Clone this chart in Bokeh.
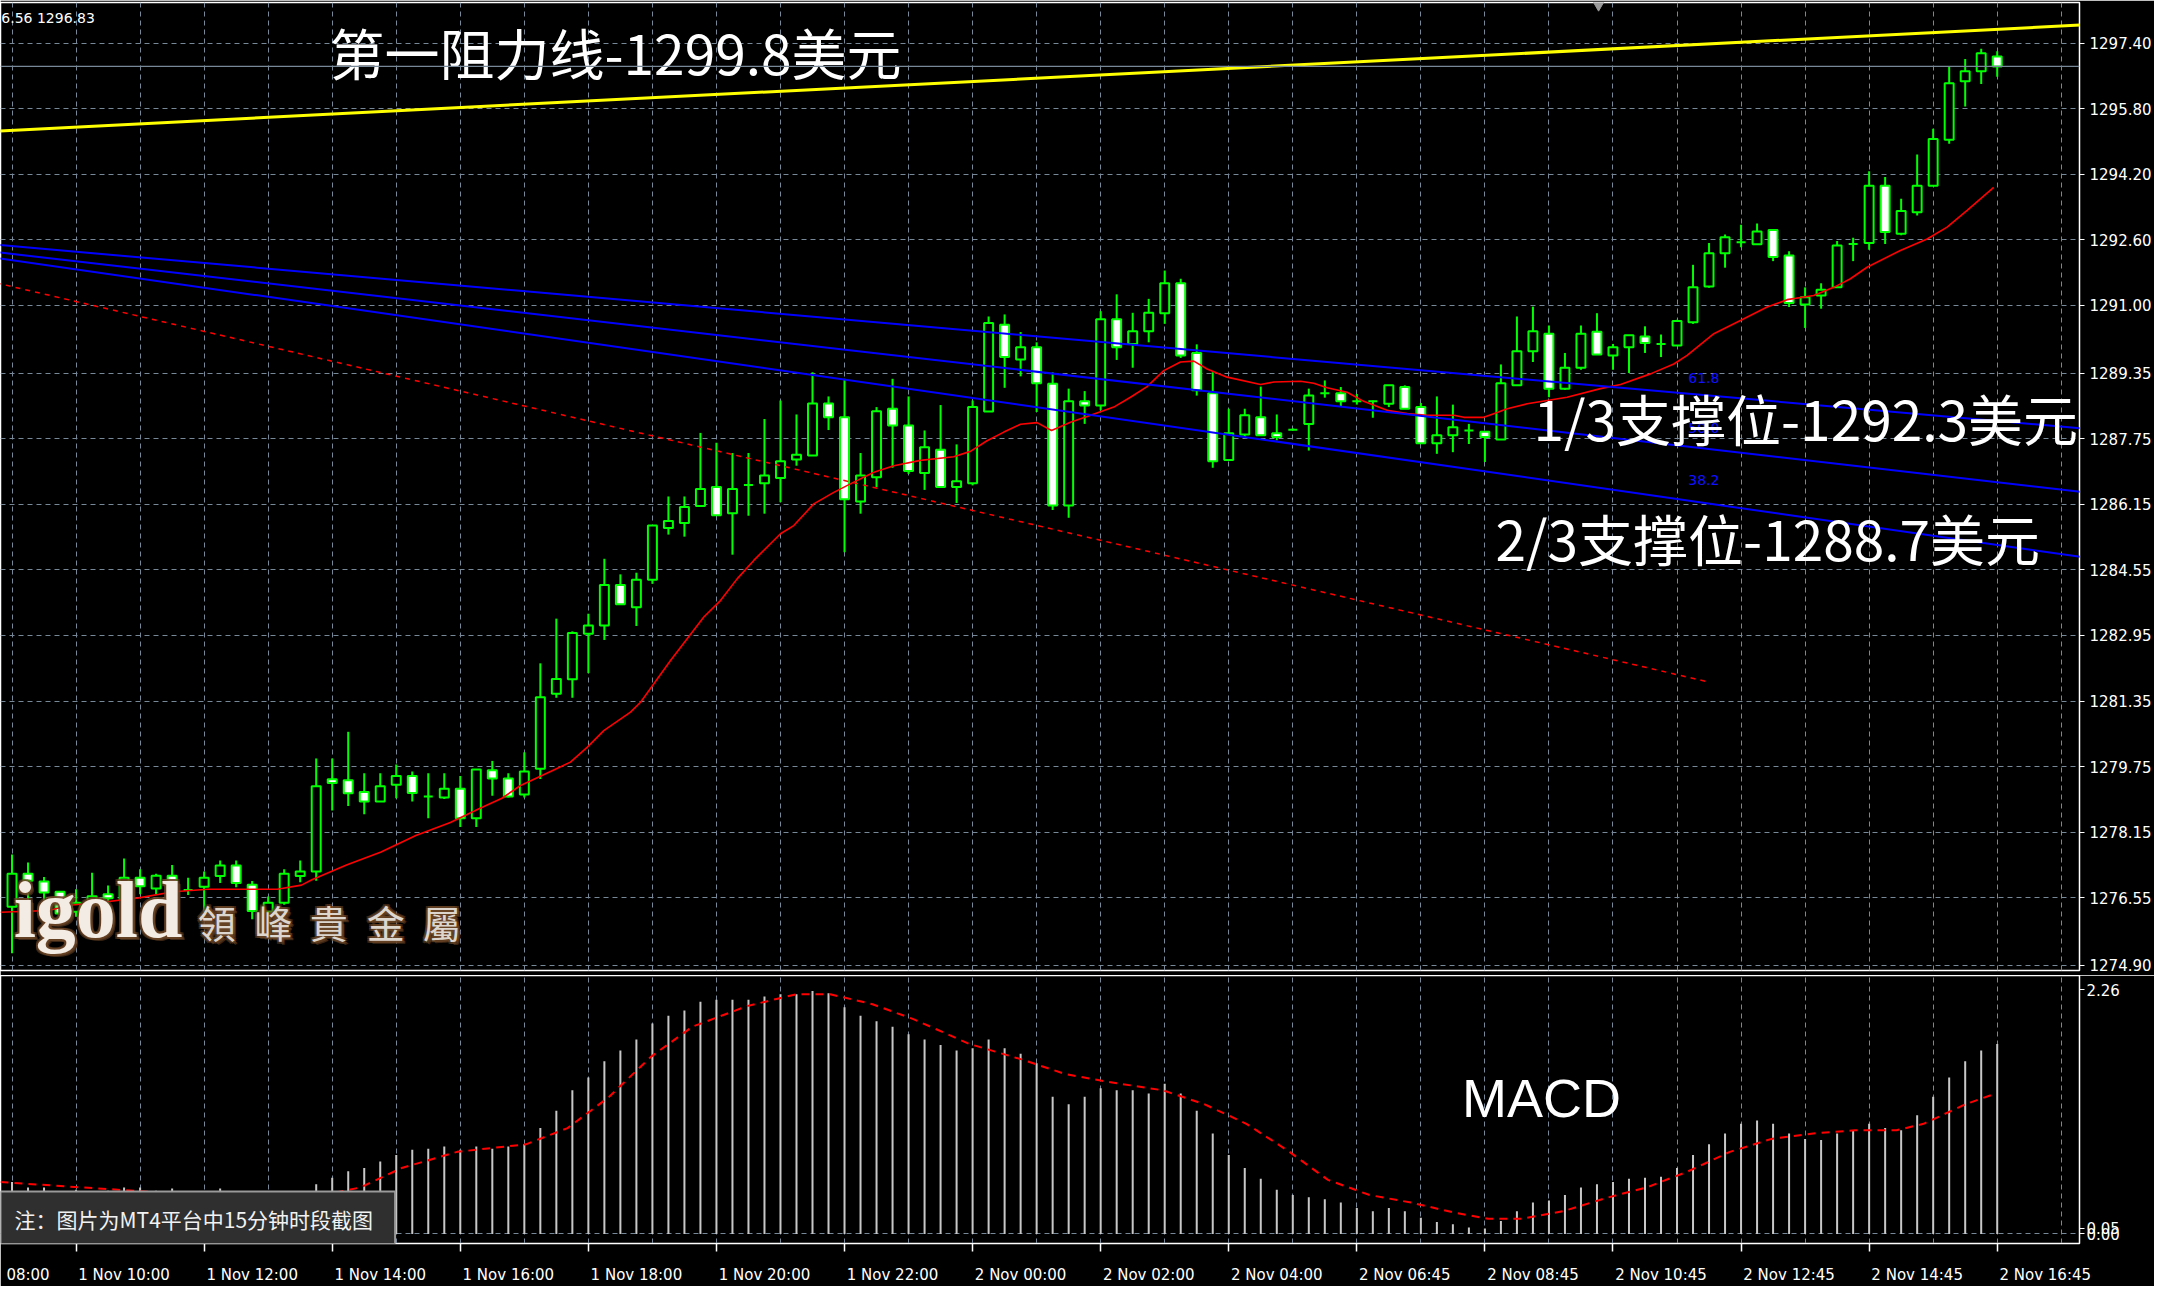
from bokeh.plotting import figure
from bokeh.layouts import column
from bokeh.models import FixedTicker, Label, Range1d, Span, PrintfTickFormatter
from bokeh.core.properties import value
from bokeh.embed import file_html
from bokeh.resources import INLINE

# ---------------- data (15-minute XAUUSD bars, bar 0 = 1 Nov 08:00) ----------------
FIRST_BAR = 4
opens = [1276.33, 1277.14, 1276.95, 1276.70, 1276.21, 1276.40, 1276.64, 1276.51, 1277.04, 1276.78,
         1277.09, 1276.74, 1276.82, 1277.08, 1277.34, 1276.87, 1276.21, 1276.43, 1277.08, 1277.19,
         1279.44, 1279.42, 1279.13, 1278.90, 1279.31, 1279.52, 1279.02, 1279.00, 1279.21, 1278.49,
         1279.66, 1279.46, 1279.07, 1279.70, 1281.53, 1281.88, 1282.99, 1283.19, 1284.18, 1283.64,
         1284.31, 1285.57, 1285.69, 1286.11, 1286.57, 1285.93, 1286.62, 1286.66, 1286.79, 1287.24,
         1287.34, 1288.61, 1288.27, 1286.22, 1286.81, 1288.48, 1288.07, 1286.91, 1287.48, 1286.57,
         1286.66, 1288.41, 1290.53, 1289.68, 1289.98, 1289.09, 1286.12, 1288.66, 1288.56, 1290.66,
         1290.06, 1290.37, 1290.81, 1291.54, 1289.84, 1288.86, 1287.23, 1287.85, 1288.27, 1287.88,
         1287.97, 1288.11, 1288.86, 1288.86, 1288.66, 1288.66, 1288.60, 1289.01, 1288.52, 1287.64,
         1287.83, 1287.95, 1287.92, 1287.73, 1289.05, 1289.88, 1290.31, 1288.97, 1289.48, 1290.36,
         1289.78, 1289.98, 1290.24, 1290.06, 1290.02, 1290.59, 1291.46, 1292.27, 1292.54, 1292.49,
         1292.84, 1292.22, 1291.02, 1291.24, 1291.44, 1292.50, 1292.52, 1293.92, 1292.75, 1293.27,
         1293.92, 1295.04, 1296.47, 1296.71, 1297.07]
highs = [1277.61, 1277.41, 1277.06, 1276.72, 1276.76, 1277.16, 1276.85, 1277.51, 1277.25, 1277.14,
         1277.35, 1277.04, 1277.19, 1277.46, 1277.46, 1276.96, 1276.58, 1277.25, 1277.46, 1279.95,
         1279.95, 1280.60, 1279.59, 1279.59, 1279.80, 1279.63, 1279.59, 1279.59, 1279.52, 1279.68,
         1279.89, 1279.59, 1280.10, 1282.27, 1283.36, 1283.05, 1283.48, 1284.82, 1284.44, 1284.48,
         1285.63, 1286.34, 1286.34, 1287.89, 1287.65, 1287.40, 1287.40, 1288.23, 1288.68, 1288.34,
         1289.37, 1288.78, 1289.21, 1287.40, 1288.52, 1289.21, 1288.78, 1287.95, 1288.57, 1287.61,
         1288.68, 1290.73, 1290.78, 1290.35, 1290.10, 1289.37, 1288.97, 1288.91, 1290.86, 1291.27,
         1290.82, 1291.16, 1291.85, 1291.65, 1290.05, 1289.37, 1288.48, 1288.48, 1289.02, 1288.34,
         1288.00, 1288.97, 1289.17, 1289.01, 1288.84, 1288.68, 1289.05, 1289.05, 1288.62, 1288.78,
         1288.58, 1288.11, 1287.92, 1289.56, 1290.73, 1290.97, 1290.51, 1289.84, 1290.51, 1290.81,
         1290.06, 1290.27, 1290.49, 1290.29, 1290.65, 1291.99, 1292.52, 1292.73, 1292.97, 1293.00,
         1292.84, 1292.32, 1291.44, 1291.54, 1292.57, 1292.65, 1294.27, 1294.13, 1293.60, 1294.68,
         1295.31, 1296.83, 1297.01, 1297.26, 1297.20]
lows = [1275.20, 1276.38, 1276.47, 1276.13, 1276.09, 1276.38, 1276.26, 1276.38, 1276.64, 1276.64,
        1276.51, 1276.62, 1276.20, 1276.91, 1276.81, 1276.03, 1276.11, 1276.38, 1276.93, 1276.97,
        1278.68, 1278.79, 1278.59, 1278.90, 1278.98, 1278.90, 1278.49, 1278.96, 1278.28, 1278.28,
        1279.04, 1279.00, 1279.00, 1279.45, 1281.43, 1281.43, 1282.03, 1282.84, 1283.71, 1283.18,
        1284.21, 1285.41, 1285.36, 1286.11, 1285.88, 1284.92, 1285.87, 1285.92, 1286.20, 1287.09,
        1287.34, 1287.96, 1284.98, 1285.92, 1286.57, 1287.04, 1286.89, 1286.50, 1286.57, 1286.18,
        1286.61, 1288.41, 1288.99, 1289.27, 1288.40, 1286.01, 1285.82, 1288.11, 1288.44, 1289.67,
        1289.48, 1290.10, 1290.55, 1289.72, 1288.80, 1287.04, 1287.23, 1287.79, 1287.83, 1287.71,
        1287.95, 1287.46, 1288.75, 1288.54, 1288.58, 1288.26, 1288.52, 1288.48, 1287.64, 1287.38,
        1287.42, 1287.62, 1287.18, 1287.73, 1289.05, 1289.62, 1288.76, 1288.94, 1289.43, 1289.80,
        1289.43, 1289.35, 1289.84, 1289.74, 1290.02, 1290.55, 1291.43, 1291.92, 1292.42, 1292.49,
        1292.08, 1290.96, 1290.45, 1290.92, 1291.44, 1292.08, 1292.36, 1292.50, 1292.71, 1293.19,
        1293.92, 1294.94, 1295.85, 1296.40, 1296.58]
closes = [1277.14, 1276.97, 1276.68, 1276.17, 1276.43, 1276.59, 1276.54, 1277.04, 1276.83, 1277.09,
          1276.60, 1276.74, 1277.04, 1277.34, 1276.91, 1276.23, 1276.43, 1277.14, 1277.19, 1279.27,
          1279.35, 1279.10, 1278.90, 1279.27, 1279.52, 1279.11, 1279.02, 1279.21, 1278.49, 1279.68,
          1279.46, 1279.02, 1279.63, 1281.44, 1281.89, 1283.01, 1283.19, 1284.18, 1283.71, 1284.31,
          1285.63, 1285.74, 1286.08, 1286.52, 1285.88, 1286.52, 1286.62, 1286.85, 1287.20, 1287.36,
          1288.61, 1288.27, 1286.27, 1286.85, 1288.42, 1288.07, 1286.96, 1287.54, 1286.57, 1286.71,
          1288.52, 1290.57, 1289.74, 1289.98, 1289.10, 1286.12, 1288.66, 1288.56, 1290.66, 1289.98,
          1290.37, 1290.82, 1291.54, 1289.78, 1288.93, 1287.20, 1287.88, 1288.32, 1287.83, 1287.79,
          1287.97, 1288.80, 1288.86, 1288.66, 1288.66, 1288.66, 1289.05, 1288.48, 1287.64, 1287.83,
          1288.03, 1287.95, 1287.79, 1289.10, 1289.88, 1290.37, 1288.97, 1289.48, 1290.31, 1289.80,
          1289.98, 1290.27, 1290.08, 1290.06, 1290.62, 1291.44, 1292.27, 1292.66, 1292.54, 1292.80,
          1292.18, 1291.06, 1291.20, 1291.38, 1292.46, 1292.50, 1293.92, 1292.79, 1293.30, 1293.92,
          1295.06, 1296.42, 1296.71, 1297.15, 1296.83]

ma_points = [(3.28, 1276.20), (6.3, 1276.24), (7.6, 1276.37), (9.76, 1276.45), (11.92, 1276.55),
             (14.08, 1276.70), (16.25, 1276.76), (18.41, 1276.76), (20.57, 1276.76), (22.08, 1276.86),
             (22.73, 1276.99), (24.89, 1277.35), (27.05, 1277.67), (29.22, 1278.07), (31.38, 1278.39),
             (33.1, 1278.71), (34.6, 1278.98), (35.76, 1279.29), (37.84, 1279.67), (38.88, 1279.86),
             (39.92, 1280.22), (40.96, 1280.63), (42.63, 1281.08), (43.26, 1281.32), (44.09, 1281.77),
             (45.13, 1282.34), (46.17, 1282.87), (47.21, 1283.40), (48.25, 1283.80), (49.29, 1284.33),
             (50.33, 1284.78), (52.0, 1285.43), (52.83, 1285.63), (54.08, 1286.16), (55.33, 1286.44),
             (56.58, 1286.69), (57.83, 1286.93), (59.08, 1287.09), (60.74, 1287.22), (62.82, 1287.31),
             (63.86, 1287.44), (64.9, 1287.70), (65.95, 1287.91), (66.99, 1288.10), (68.03, 1288.14),
             (68.93, 1287.95), (70.11, 1288.15), (71.15, 1288.29), (72.82, 1288.52), (73.86, 1288.76),
             (74.9, 1289.02), (75.94, 1289.41), (76.98, 1289.62), (77.82, 1289.64), (78.65, 1289.45),
             (79.9, 1289.25), (81.98, 1289.07), (82.81, 1289.13), (84.48, 1289.15), (85.31, 1289.10),
             (86.14, 1288.99), (87.39, 1288.88), (88.43, 1288.66), (89.89, 1288.44), (91.14, 1288.36),
             (92.39, 1288.32), (94.06, 1288.32), (94.68, 1288.27), (95.93, 1288.27), (96.55, 1288.36),
             (97.39, 1288.48), (98.64, 1288.60), (101.13, 1288.76), (103.22, 1288.97), (104.47, 1289.07),
             (106.34, 1289.33), (107.8, 1289.57), (108.63, 1289.78), (110.3, 1290.31), (111.96, 1290.63),
             (113.63, 1290.96), (114.88, 1291.14), (116.54, 1291.24), (117.79, 1291.44), (118.83, 1291.65),
             (119.87, 1291.93), (121.95, 1292.34), (123.62, 1292.62), (124.87, 1292.91), (126.12, 1293.32),
             (126.95, 1293.60), (127.78, 1293.88)]

macd_hist = [0.48, 0.43, 0.43, 0.38, 0.41, 0.38, 0.40, 0.43, 0.43, 0.40,
             0.42, 0.38, 0.38, 0.42, 0.38, 0.31, 0.29, 0.31, 0.34, 0.46,
             0.52, 0.58, 0.61, 0.67, 0.73, 0.78, 0.79, 0.81, 0.78, 0.81,
             0.79, 0.81, 0.83, 0.98, 1.14, 1.33, 1.45, 1.60, 1.70, 1.80,
             1.95, 2.02, 2.07, 2.15, 2.17, 2.17, 2.17, 2.20, 2.22, 2.22,
             2.25, 2.23, 2.10, 2.02, 1.97, 1.92, 1.85, 1.80, 1.75, 1.70,
             1.72, 1.80, 1.72, 1.67, 1.58, 1.27, 1.20, 1.27, 1.35, 1.33,
             1.33, 1.30, 1.39, 1.30, 1.14, 0.93, 0.73, 0.61, 0.51, 0.41,
             0.36, 0.34, 0.32, 0.29, 0.24, 0.21, 0.24, 0.21, 0.15, 0.11,
             0.09, 0.06, 0.05, 0.12, 0.21, 0.29, 0.31, 0.36, 0.43, 0.46,
             0.48, 0.51, 0.52, 0.53, 0.61, 0.73, 0.83, 0.93, 1.02, 1.05,
             1.02, 0.93, 0.88, 0.87, 0.93, 0.96, 1.02, 0.98, 0.96, 1.10,
             1.27, 1.45, 1.60, 1.70, 1.76]

signal_points = [(3.28, 0.48), (8.46, 0.43), (13.65, 0.38), (18.83, 0.33), (23.15, 0.35),
                 (25.75, 0.43), (28.34, 0.61), (31.8, 0.76), (36.1, 0.83), (38.7, 0.98),
                 (41.3, 1.27), (43.9, 1.64), (46.5, 1.92), (49.9, 2.11), (52.97, 2.22),
                 (55.1, 2.22), (57.7, 2.13), (60.3, 1.99), (63.8, 1.76), (67.2, 1.61),
                 (69.8, 1.48), (72.4, 1.41), (75.9, 1.33), (78.5, 1.20), (81.1, 1.02),
                 (83.7, 0.77), (86.2, 0.50), (88.8, 0.36), (91.4, 0.29), (94.0, 0.20),
                 (96.2, 0.14), (98.3, 0.14), (100.9, 0.21), (103.5, 0.33), (106.1, 0.43),
                 (108.7, 0.58), (111.3, 0.76), (113.9, 0.88), (116.5, 0.93), (119.1, 0.96),
                 (121.7, 0.96), (123.4, 1.02), (126.0, 1.20), (127.7, 1.29)]

price_ticks = [1274.90, 1276.55, 1278.15, 1279.75, 1281.35, 1282.95, 1284.55, 1286.15,
               1287.75, 1289.35, 1291.00, 1292.60, 1294.20, 1295.80, 1297.40]
macd_ticks = [0.0, 0.05, 2.26]
time_tick_bars = [0, 8, 16, 24, 32, 40, 48, 56, 64, 72, 80, 88, 96, 104, 112, 120, 128]
time_tick_labels = ["1 Nov 08:00", "1 Nov 10:00", "1 Nov 12:00", "1 Nov 14:00", "1 Nov 16:00",
                    "1 Nov 18:00", "1 Nov 20:00", "1 Nov 22:00", "2 Nov 00:00", "2 Nov 02:00",
                    "2 Nov 04:00", "2 Nov 06:45", "2 Nov 08:45", "2 Nov 10:45", "2 Nov 12:45",
                    "2 Nov 14:45", "2 Nov 16:45"]

bid_price = 1296.83
shift_marker_bar = 103.1
resist_bars = [3.0, 133.3]
resist_prices = [1295.25, 1297.84]
fan_bars = [3.0, 133.3]
fan_618 = [1292.48, 1288.00]
fan_500 = [1292.30, 1286.45]
fan_382 = [1292.16, 1284.86]
fan_base_bars = [3.0, 109.8]
fan_base_prices = [1291.55, 1281.83]

# ---------------- style ----------------
GREEN = "#00ff00"
GRID = "#778899"
AX_FONT = "DejaVu Sans"
CJK = "Noto Sans CJK SC"

xr = Range1d(3.28, 133.14)

p = figure(width=2154, height=975, x_range=xr, y_range=Range1d(1274.778, 1298.388),
           output_backend="svg", toolbar_location=None, x_axis_location=None,
           y_axis_location="right", min_border_left=0, min_border_top=2,
           min_border_right=75, min_border_bottom=5,
           background_fill_color="black", border_fill_color="black",
           outline_line_color="white", outline_line_width=1.5)

ya = p.yaxis[0]
ya.ticker = FixedTicker(ticks=price_ticks)
ya.formatter = PrintfTickFormatter(format="%.2f")
ya.axis_line_color = None
ya.major_tick_line_color = "white"
ya.major_tick_out = 5
ya.major_tick_in = 0
ya.minor_tick_line_color = None
ya.major_label_text_color = "white"
ya.major_label_text_font = AX_FONT
ya.major_label_text_font_size = "15px"
ya.major_label_standoff = 5

p.xgrid.ticker = FixedTicker(ticks=list(range(0, 136, 4)))
p.ygrid.ticker = FixedTicker(ticks=price_ticks)
for g in (p.xgrid[0], p.ygrid[0]):
    g.grid_line_color = GRID
    g.grid_line_dash = "5 4"
    g.grid_line_width = 1

bars = list(range(FIRST_BAR, FIRST_BAR + len(opens)))
up = [k for k in range(len(opens)) if closes[k] >= opens[k]]
dn = [k for k in range(len(opens)) if closes[k] < opens[k]]

p.segment(x0=bars, y0=lows, x1=bars, y1=highs, line_color=GREEN, line_width=2)
p.vbar(x=[bars[k] for k in up], bottom=[opens[k] for k in up], top=[closes[k] for k in up],
       width=0.56, fill_color="black", line_color=GREEN, line_width=2)
p.vbar(x=[bars[k] for k in dn], bottom=[closes[k] for k in dn], top=[opens[k] for k in dn],
       width=0.56, fill_color="white", line_color=GREEN, line_width=2)

ma_x = [a for a, b in ma_points]
ma_y = [b for a, b in ma_points]
p.line(ma_x, ma_y, line_color="#ff0000", line_width=1.6)

p.line(fan_base_bars, fan_base_prices, line_color="#ff0000", line_width=1.5, line_dash="5 5")
for lvl in (fan_618, fan_500, fan_382):
    p.line(fan_bars, lvl, line_color="#0000ff", line_width=2)
p.line(resist_bars, resist_prices, line_color="#ffff00", line_width=3)
p.add_layout(Span(location=bid_price, dimension="width", line_color=GRID, line_width=1.2))
p.scatter(x=[shift_marker_bar], y=[1298.36], marker="inverted_triangle", size=13,
          fill_color="#9a9a9a", line_color="#9a9a9a")

# fib fan level labels
p.text(x=[108.7, 108.7, 108.7], y=[1289.24, 1288.00, 1286.73], text=["61.8", "50.0", "38.2"],
       text_color="#1010ff", text_font=value(AX_FONT), text_font_size="14px",
       text_baseline="middle", text_align="left")

# info text at top-left
p.text(x=[3.33], y=[1298.02], text=["6.56 1296.83"], text_color="white",
       text_font=value(AX_FONT), text_font_size="14px", text_baseline="middle")

# watermark
wm_chars = ["領", "峰", "貴", "金", "屬"]
wm_x = [15.6, 19.15, 22.6, 26.15, 29.65]
glow = [(-2, 0), (2, 0), (0, -2), (0, 2), (-2, -2), (2, 2), (-2, 2), (2, -2), (3, 3)]
for dx, dy in glow:
    p.text(x=[4.1], y=[1275.17], text=["igold"], x_offset=dx, y_offset=dy,
           text_color="#6b4526", text_alpha=0.55, text_font=value("Liberation Serif"),
           text_font_style="bold", text_font_size="80px", text_baseline="bottom")
    p.text(x=wm_x, y=[1275.98] * 5, text=wm_chars, x_offset=dx, y_offset=dy,
           text_color="#6b4526", text_alpha=0.55, text_font=value("Noto Sans CJK TC"),
           text_font_size="38px", text_baseline="middle")
p.text(x=[4.1], y=[1275.17], text=["igold"], text_color="#f3ece4",
       text_font=value("Liberation Serif"), text_font_style="bold", text_font_size="80px",
       text_baseline="bottom")
p.text(x=wm_x, y=[1275.98] * 5, text=wm_chars, text_color="#ddd6cf",
       text_font=value("Noto Sans CJK TC"), text_font_size="38px", text_baseline="middle")

# annotations
p.text(x=[23.83, 99.03, 96.66], y=[1297.20, 1288.27, 1285.36],
       text=["第一阻力线-1299.8美元", "1/3支撑位-1292.3美元", "2/3支撑位-1288.7美元"],
       text_color="white", text_font=value(CJK), text_font_size="55px",
       text_baseline="middle", text_align="left")

p.add_layout(Label(x=133.14, y=bid_price, x_units="data", y_units="data", text="1296.83",
                   x_offset=9, text_color="black", background_fill_color="white",
                   text_font=AX_FONT, text_font_size="15px", text_baseline="middle",
                   text_align="left", padding=3))

# ---------------- MACD panel ----------------
p2 = figure(width=2154, height=311, x_range=xr, y_range=Range1d(-0.089, 2.394),
            output_backend="svg", toolbar_location=None, x_axis_location="below",
            y_axis_location="right", min_border_left=0, min_border_top=0,
            min_border_right=75, min_border_bottom=33,
            background_fill_color="black", border_fill_color="black",
            outline_line_color="white", outline_line_width=1.5)

ya2 = p2.yaxis[0]
ya2.ticker = FixedTicker(ticks=macd_ticks)
ya2.formatter = PrintfTickFormatter(format="%.2f")
ya2.axis_line_color = None
ya2.major_tick_line_color = "white"
ya2.major_tick_out = 5
ya2.major_tick_in = 0
ya2.minor_tick_line_color = None
ya2.major_label_text_color = "white"
ya2.major_label_text_font = AX_FONT
ya2.major_label_text_font_size = "15px"
ya2.major_label_standoff = 2

LABEL_SHIFT = 3
label_pos = [b + LABEL_SHIFT for b in time_tick_bars]
overrides = {pos: lab for pos, lab in zip(label_pos, time_tick_labels)}
overrides[5] = time_tick_labels[0].split(" ")[-1]
xa = p2.xaxis[0]
xa.ticker = FixedTicker(ticks=[5] + label_pos[1:], minor_ticks=time_tick_bars)
xa.major_label_overrides = overrides
xa.major_tick_line_color = None
xa.major_tick_out = 0
xa.major_tick_in = 0
xa.minor_tick_line_color = "white"
xa.minor_tick_out = 8
xa.minor_tick_in = 0
xa.minor_tick_line_width = 1.5
xa.axis_line_color = "white"
xa.major_label_text_color = "white"
xa.major_label_text_font = AX_FONT
xa.major_label_text_font_size = "15px"
xa.major_label_standoff = 14

p2.xgrid.ticker = FixedTicker(ticks=list(range(0, 136, 4)))
p2.ygrid.ticker = FixedTicker(ticks=[0.0])
for g in (p2.xgrid[0], p2.ygrid[0]):
    g.grid_line_color = GRID
    g.grid_line_dash = "5 4"
    g.grid_line_width = 1

p2.segment(x0=bars, y0=[0.0] * len(bars), x1=bars, y1=macd_hist, line_color="#c8c8c8", line_width=2)
sig_x = [a for a, b in signal_points]
sig_y = [b for a, b in signal_points]
p2.line(sig_x, sig_y, line_color="#ff0000", line_width=2, line_dash="8 6")

p2.text(x=[94.57], y=[1.26], text=["MACD"], text_color="white",
        text_font=value("Liberation Sans"), text_font_size="54px",
        text_baseline="middle", text_align="left")

p2.add_layout(Label(x=3.28, y=0.134, x_units="data", y_units="data",
                    text="注：图片为MT4平台中15分钟时段截图", x_offset=0,
                    text_color="#f2f2f2", text_font=CJK, text_font_size="21px",
                    text_baseline="middle", text_align="left",
                    background_fill_color="#2f2f2f", border_line_color="#9a9a9a",
                    border_line_width=2,
                    padding=dict(left=14, right=22, top=13, bottom=13)))

layout = column(p, p2, spacing=0)
open("out.html", "w").write(file_html(layout, INLINE))
